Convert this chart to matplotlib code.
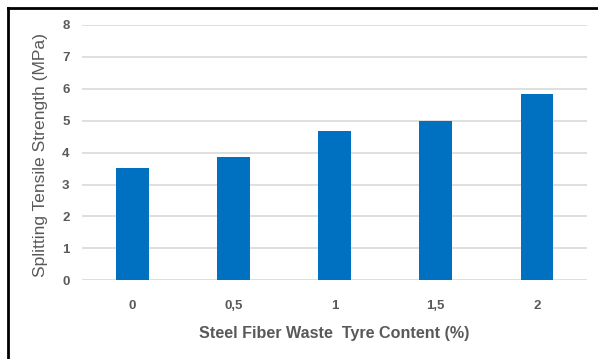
import matplotlib.pyplot as plt
from matplotlib.lines import Line2D

fiber_content = ['0', '0,5', '1', '1,5', '2']
tensile_strength = [3.52, 3.85, 4.68, 4.98, 5.82]

grey = '#595959'
plt.rcParams['font.family'] = 'Liberation Sans'

fig = plt.figure(figsize=(5.98, 3.59), dpi=100)
ax = fig.add_axes([0.137, 0.219, 0.845, 0.712])

x = range(len(fiber_content))
ax.bar(x, tensile_strength, width=0.32, color='#0070C0', zorder=3)

ax.set_xlim(-0.5, len(fiber_content) - 0.5)
ax.set_ylim(0, 8)
ax.set_yticks(range(0, 9))
ax.set_xticks(list(x))
ax.set_xticklabels(fiber_content)
ax.grid(axis='y', color='#d9d9d9', linewidth=1.2, zorder=0)
for s in ax.spines.values():
    s.set_visible(False)
ax.tick_params(length=0, colors=grey, labelsize=9.5)
ax.tick_params(axis='y', pad=9)
ax.tick_params(axis='x', pad=14)
for lbl in ax.get_xticklabels() + ax.get_yticklabels():
    lbl.set_fontweight('bold')

ax.set_xlabel('Steel Fiber Waste  Tyre Content (%)', fontsize=11.6,
              fontweight='bold', color=grey)
ax.xaxis.set_label_coords(0.5, -0.178)
ax.set_ylabel('Splitting Tensile Strength (MPa)', fontsize=12.6, color=grey)
ax.yaxis.set_label_coords(-0.067, 0.49)

# outer frame, left and top edges only
fig.add_artist(Line2D([8 / 598, 8 / 598], [0, 1 - 8 / 359], color='black',
                      linewidth=2, transform=fig.transFigure))
fig.add_artist(Line2D([8 / 598, 1], [1 - 8 / 359, 1 - 8 / 359], color='black',
                      linewidth=2, transform=fig.transFigure))

fig.savefig('out.png', dpi=100)
